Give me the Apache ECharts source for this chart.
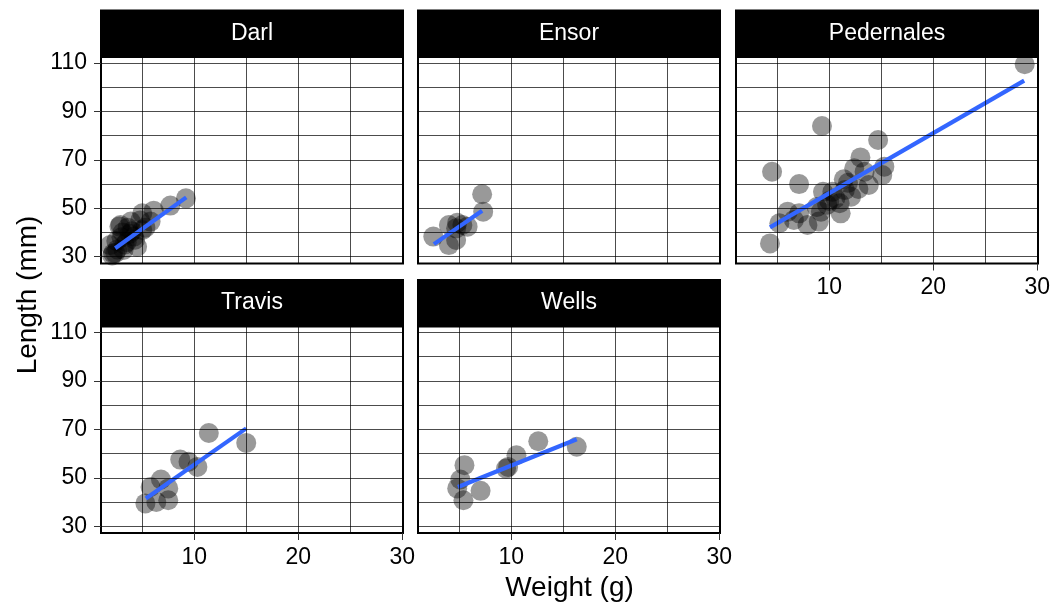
<!DOCTYPE html>
<html>
<head>
<meta charset="utf-8">
<script src="https://cdn.jsdelivr.net/npm/echarts@6/dist/echarts.min.js"></script>
<style>
html,body{margin:0;padding:0;background:#ffffff;}
#chart{width:1053px;height:607px;}
</style>
</head>
<body>
<div id="chart"></div>
<script>
// ---------- data ----------
const panelNames = ['Darl', 'Ensor', 'Pedernales', 'Travis', 'Wells'];

const darlWeight = [9.2, 7.7, 6.1, 5.0, 5.8, 2.9, 3.9, 5.0, 4.2, 1.9, 2.2, 3.2, 4.5, 3.5, 2.6, 4.0, 3.0, 2.5, 3.6, 4.8, 2.1, 3.3, 2.8, 4.3, 3.8, 5.3, 2.4, 3.1];
const darlLength = [54.1, 51.1, 49.0, 47.9, 44.5, 43.1, 44.5, 41.0, 38.3, 34.8, 31.4, 32.8, 34.1, 36.0, 33.0, 40.5, 38.0, 36.5, 42.0, 45.0, 30.5, 35.0, 42.5, 37.0, 39.5, 42.0, 31.5, 40.0];

const ensorWeight = [7.2, 7.3, 2.5, 4.0, 4.7, 4.0, 4.8, 5.8, 5.3, 4.7];
const ensorLength = [55.8, 48.6, 38.3, 34.8, 36.9, 43.1, 44.0, 42.4, 43.1, 41.7];

const pedernalesWeight = [28.8, 9.3, 4.5, 7.1, 14.7, 13.0, 12.4, 15.3, 15.1, 13.8, 13.4, 11.4, 12.1, 11.1, 11.0, 10.3, 9.4, 10.6, 9.2, 9.0, 7.9, 7.1, 6.6, 6.0, 5.2, 4.3, 11.8, 10.0, 12.8, 8.8, 11.5, 9.8];
const pedernalesLength = [109.5, 84.0, 65.1, 60.0, 78.2, 71.0, 66.5, 67.2, 63.7, 59.6, 65.1, 62.0, 54.8, 47.9, 52.1, 56.8, 56.8, 54.1, 48.6, 44.5, 43.1, 47.9, 45.2, 48.6, 43.8, 35.5, 60.5, 53.0, 58.0, 50.5, 57.5, 51.5];

const travisWeight = [11.4, 15.0, 8.65, 9.45, 10.3, 6.8, 5.8, 7.5, 5.3, 6.35, 7.5];
const travisLength = [68.5, 64.4, 57.5, 56.6, 54.5, 49.3, 46.2, 45.6, 39.4, 40.0, 40.7];

const wellsWeight = [12.6, 16.3, 10.5, 9.5, 9.7, 5.5, 5.1, 4.8, 7.05, 5.4];
const wellsLength = [65.1, 62.8, 59.3, 53.8, 54.5, 55.2, 49.3, 45.6, 44.6, 40.7];

// fitted (lm) line end points, as drawn in the reference
const fitStartWeight = [2.4, 2.56, 4.3, 5.35, 4.87];
const fitStartLength = [33.5, 35.2, 42.1, 41.4, 46.2];
const fitEndWeight = [9.23, 7.2, 28.75, 15.0, 16.3];
const fitEndLength = [54.5, 49.0, 102.7, 70.4, 65.9];

const xTickValues = [10, 20, 30];
const xMinorValues = [5, 15, 25];
const yTickValues = [30, 50, 70, 90, 110];
const yMinorValues = [40, 60, 80, 100];

const xRange = [1.03, 30.08];
const yRange = [27.19, 112.48];

// ---------- layout ----------
const weights = [darlWeight, ensorWeight, pedernalesWeight, travisWeight, wellsWeight];
const lengths = [darlLength, ensorLength, pedernalesLength, travisLength, wellsLength];
const panelLeft = [101, 418, 736, 101, 418];
const panelTop = [57, 57, 57, 326.5, 326.5];
const panelW = 302, panelH = 206.5, stripH = 47.5;
const showXLabels = [false, false, true, true, true];
const showYLabels = [true, false, false, true, false];
const FONT = '"Liberation Sans", Arial, Helvetica, sans-serif';

const grids = [], xAxes = [], yAxes = [], series = [], graphics = [];
panelNames.forEach((name, i) => {
  grids.push({
    left: panelLeft[i], top: panelTop[i], width: panelW, height: panelH,
    show: true, backgroundColor: '#ffffff', borderColor: '#000000', borderWidth: 2,
    containLabel: false
  });
  xAxes.push({
    gridIndex: i, type: 'value', min: xRange[0], max: xRange[1],
    axisLine: { show: false }, splitLine: { show: false },
    axisTick: { show: showXLabels[i], customValues: xTickValues, length: 7, lineStyle: { color: '#333333', width: 1 } },
    axisLabel: { show: showXLabels[i], customValues: xTickValues, margin: 13, fontSize: 23, color: '#000000', fontFamily: FONT }
  });
  yAxes.push({
    gridIndex: i, type: 'value', min: yRange[0], max: yRange[1],
    axisLine: { show: false }, splitLine: { show: false },
    axisTick: { show: showYLabels[i], customValues: yTickValues, length: 7, lineStyle: { color: '#333333', width: 1 } },
    axisLabel: { show: showYLabels[i], customValues: yTickValues, margin: 14, fontSize: 23, color: '#000000', fontFamily: FONT }
  });
  const lineData = [];
  xTickValues.concat(xMinorValues).forEach(v => lineData.push({ xAxis: v }));
  yTickValues.concat(yMinorValues).forEach(v => lineData.push({ yAxis: v }));
  // grid lines (below points)
  series.push({
    type: 'scatter', xAxisIndex: i, yAxisIndex: i, data: [], z: 1, silent: true,
    markLine: {
      silent: true, symbol: ['none', 'none'], label: { show: false }, animation: false,
      lineStyle: { color: 'rgba(0,0,0,0.7)', width: 1, type: 'solid' },
      emphasis: { disabled: true },
      data: lineData
    }
  });
  // points
  series.push({
    type: 'scatter', xAxisIndex: i, yAxisIndex: i, z: 3, silent: true,
    symbolSize: 20,
    itemStyle: { color: 'rgba(0,0,0,0.5)', borderWidth: 0 },
    data: weights[i].map((w, k) => [w, lengths[i][k]])
  });
  // fitted line
  series.push({
    type: 'line', xAxisIndex: i, yAxisIndex: i, z: 4, silent: true,
    symbol: 'none', lineStyle: { color: '#3366FF', width: 4.2 },
    data: [[fitStartWeight[i], fitStartLength[i]], [fitEndWeight[i], fitEndLength[i]]]
  });
  // strip
  graphics.push({
    type: 'rect', shape: { x: panelLeft[i] - 1, y: panelTop[i] - stripH, width: panelW + 2, height: stripH },
    style: { fill: '#000000' }, silent: true
  });
  graphics.push({
    type: 'text', x: panelLeft[i] + panelW / 2, y: panelTop[i] - stripH / 2,
    style: { text: name, fill: '#ffffff', fontSize: 23, fontFamily: FONT, align: 'center', verticalAlign: 'middle' },
    silent: true
  });
});

graphics.push({
  type: 'text', x: 28, y: 295, rotation: Math.PI / 2,
  style: { text: 'Length (mm)', fill: '#000000', fontSize: 28, fontFamily: FONT, align: 'center', verticalAlign: 'middle' },
  silent: true
});
graphics.push({
  type: 'text', x: 569.5, y: 588,
  style: { text: 'Weight (g)', fill: '#000000', fontSize: 28, fontFamily: FONT, align: 'center', verticalAlign: 'middle' },
  silent: true
});

const chart = echarts.init(document.getElementById('chart'), null, { renderer: 'canvas' });
chart.setOption({
  backgroundColor: '#ffffff',
  animation: false,
  grid: grids,
  xAxis: xAxes,
  yAxis: yAxes,
  series: series,
  graphic: graphics
});
</script>
</body>
</html>
